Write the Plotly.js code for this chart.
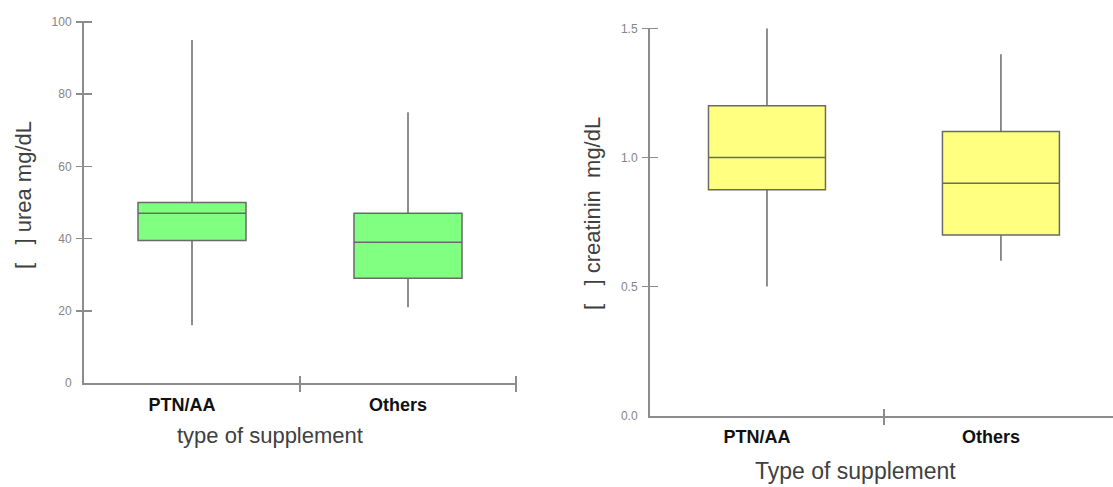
<!DOCTYPE html>
<html>
<head>
<meta charset="utf-8">
<script src="https://cdn.plot.ly/plotly-3.0.1.min.js"></script>
<style>html,body{margin:0;padding:0;background:#fff;}#chart{width:1113px;height:487px;}</style>
</head>
<body>
<div id="chart"></div>
<script>
// ---- data ----
const categories = ['PTN/AA', 'Others'];

const ureaLower  = [16, 21];
const ureaQ1     = [39.5, 29];
const ureaMedian = [47, 39];
const ureaQ3     = [50, 47];
const ureaUpper  = [95, 75];

const creatLower  = [0.5, 0.6];
const creatQ1     = [0.875, 0.7];
const creatMedian = [1.0, 0.9];
const creatQ3     = [1.2, 1.1];
const creatUpper  = [1.5, 1.4];

const ureaTickVals  = [0, 20, 40, 60, 80, 100];
const creatTickVals = [0, 0.5, 1.0, 1.5];
const boundaryTicks = [0.5, 1.5];

const ureaTitle  = '[\u00A0\u00A0\u00A0] urea mg/dL';
const creatTitle = '[\u00A0\u00A0\u00A0] creatinin \u00A0mg/dL';
const xTitleLeft  = 'type of supplement';
const xTitleRight = 'Type of supplement';

// ---- styles ----
const W = 1113, H = 487;
const axisGrey = '#8c8c8c';
const boxLine = {color: '#6a6a6a', width: 1.5};
const font = 'Liberation Sans, Arial, sans-serif';

const traces = [
  {
    type: 'box', x: categories,
    q1: ureaQ1, median: ureaMedian, q3: ureaQ3,
    lowerfence: ureaLower, upperfence: ureaUpper,
    fillcolor: '#80ff80', line: boxLine, width: 0.5, whiskerwidth: 0,
    boxpoints: false, hoverinfo: 'y', xaxis: 'x', yaxis: 'y', showlegend: false
  },
  {
    type: 'box', x: categories,
    q1: creatQ1, median: creatMedian, q3: creatQ3,
    lowerfence: creatLower, upperfence: creatUpper,
    fillcolor: '#ffff80', line: boxLine, width: 0.5, whiskerwidth: 0,
    boxpoints: false, hoverinfo: 'y', xaxis: 'x2', yaxis: 'y2', showlegend: false
  }
];
// empty helper traces so the tick-only overlay axes get drawn
[['x3','y'],['x','y3'],['x4','y2'],['x2','y4']].forEach(([xa, ya]) => {
  traces.push({type: 'scatter', x: [], y: [], xaxis: xa, yaxis: ya, showlegend: false, hoverinfo: 'skip'});
});

const px = v => v / W;
const py = v => (H - v) / H;
const HALF = 8; // half length of the crossing ticks

const catAxis = (domain, range, anchor) => ({
  domain, range, anchor, type: 'category', categoryorder: 'array', categoryarray: categories,
  showline: true, linecolor: axisGrey, linewidth: 2, ticks: '', showgrid: false, zeroline: false,
  tickfont: {family: font, size: 18, color: '#111', weight: 'bold'},
  ticklabelshift: -10, ticklabelstandoff: 4, fixedrange: true
});
// crossing tick marks: a free axis shifted HALF px inside, with ticks 2*HALF long going outward
const tickOverlayX = (over, domain, range, posPx) => ({
  overlaying: over, anchor: 'free', position: py(posPx - HALF), side: 'bottom',
  domain, type: 'linear', range, autorange: false,
  tickmode: 'array', tickvals: boundaryTicks, ticks: 'outside', ticklen: 2 * HALF, tickwidth: 1.5, tickcolor: axisGrey,
  showticklabels: false, showline: false, showgrid: false, zeroline: false, fixedrange: true
});
const valAxis = (domain, range, anchor, tickvals, fmt) => ({
  domain, range, anchor, autorange: false, tickmode: 'array', tickvals, tickformat: fmt,
  showline: true, linecolor: axisGrey, linewidth: 2, ticks: 'outside', ticklen: HALF, tickwidth: 1.5,
  tickcolor: 'rgba(0,0,0,0)', showgrid: false, zeroline: false,
  tickfont: {family: font, size: 12, color: '#858585'}, fixedrange: true
});
const tickOverlayY = (over, domain, range, tickvals, posPx) => ({
  overlaying: over, anchor: 'free', position: px(posPx + HALF), side: 'left',
  domain, range, autorange: false,
  tickmode: 'array', tickvals, ticks: 'outside', ticklen: 2 * HALF, tickwidth: 1.5, tickcolor: axisGrey,
  showticklabels: false, showline: false, showgrid: false, zeroline: false, fixedrange: true
});

const leftX = [px(84), px(516)];
const leftY = [py(383), py(22)];
const rightX = [px(650), 1];
const rightY = [py(415.7), py(28.3)];
const rightRange = [-0.5, 1.479];

const layout = {
  width: W, height: H,
  margin: {l: 0, r: 0, t: 0, b: 0},
  paper_bgcolor: '#fff', plot_bgcolor: 'rgba(0,0,0,0)',
  showlegend: false,
  xaxis: catAxis(leftX, [-0.5, 1.5], 'y'),
  yaxis: valAxis(leftY, [0, 100], 'x', ureaTickVals, 'd'),
  xaxis2: catAxis(rightX, rightRange, 'y2'),
  yaxis2: valAxis(rightY, [0, 1.5], 'x2', creatTickVals, '.1f'),
  xaxis3: tickOverlayX('x', leftX, [-0.5, 1.5], 383),
  xaxis4: tickOverlayX('x2', rightX, rightRange, 415.7),
  yaxis3: tickOverlayY('y', leftY, [0, 100], ureaTickVals.slice(1), 84),
  yaxis4: tickOverlayY('y2', rightY, [0, 1.5], creatTickVals.slice(1), 650),
  annotations: [
    {text: ureaTitle, xref: 'paper', yref: 'paper', x: px(23), y: py(195), textangle: -90,
     showarrow: false, xanchor: 'center', yanchor: 'middle', font: {family: font, size: 22, color: '#404040'}},
    {text: creatTitle, xref: 'paper', yref: 'paper', x: px(592), y: py(213), textangle: -90,
     showarrow: false, xanchor: 'center', yanchor: 'middle', font: {family: font, size: 22, color: '#404040'}},
    {text: xTitleLeft, xref: 'paper', yref: 'paper', x: px(270), y: py(435),
     showarrow: false, xanchor: 'center', yanchor: 'middle', font: {family: font, size: 22, color: '#404040'}},
    {text: xTitleRight, xref: 'paper', yref: 'paper', x: px(855), y: py(471),
     showarrow: false, xanchor: 'center', yanchor: 'middle', font: {family: font, size: 23, color: '#404040'}}
  ]
};

Plotly.newPlot('chart', traces, layout, {staticPlot: true, displayModeBar: false});
</script>
</body>
</html>
